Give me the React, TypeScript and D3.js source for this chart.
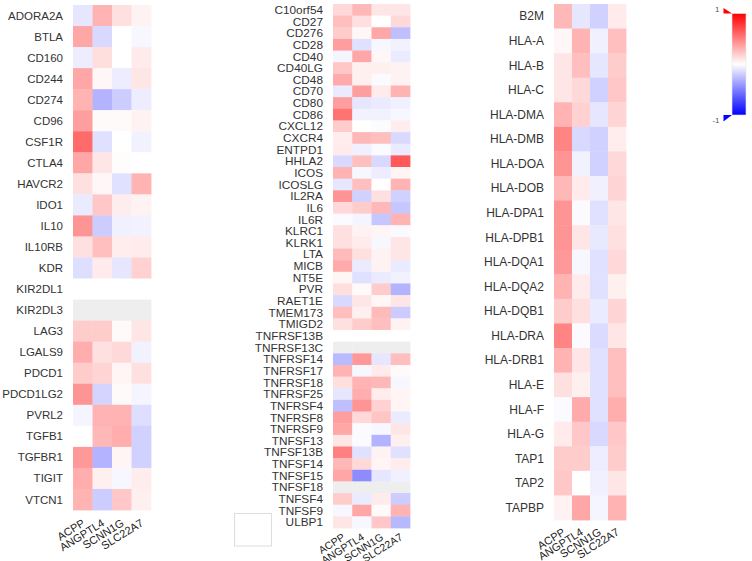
import React, { useEffect, useRef } from "react";
import * as d3 from "d3";

// correlation of immune genes with the four signature genes
const samples = ["ACPP", "ANGPTL4", "SCNN1G", "SLC22A7"];

const inhibitorGenes = [
  "ADORA2A", "BTLA", "CD160", "CD244", "CD274", "CD96", "CSF1R", "CTLA4",
  "HAVCR2", "IDO1", "IL10", "IL10RB", "KDR", "KIR2DL1", "KIR2DL3", "LAG3",
  "LGALS9", "PDCD1", "PDCD1LG2", "PVRL2", "TGFB1", "TGFBR1", "TIGIT", "VTCN1",
];
const inhibitorValues = [
  [-0.1, 0.3, 0.12, 0.05],
  [0.35, -0.15, 0.0, -0.03],
  [-0.07, 0.13, 0.0, 0.08],
  [0.35, 0.03, -0.07, 0.1],
  [0.3, -0.3, -0.2, -0.07],
  [0.38, 0.02, 0.02, 0.05],
  [0.58, -0.12, 0.0, -0.05],
  [0.35, 0.1, 0.01, 0.0],
  [0.12, 0.03, -0.12, 0.3],
  [-0.08, 0.22, 0.07, 0.05],
  [0.42, -0.2, -0.06, -0.05],
  [0.12, 0.25, 0.07, 0.08],
  [-0.13, 0.08, -0.1, 0.18],
  [0.0, 0.0, 0.0, 0.0],
  [null, null, null, null],
  [0.2, 0.2, 0.02, 0.1],
  [0.32, 0.12, 0.15, -0.05],
  [0.2, 0.17, 0.04, 0.12],
  [0.42, -0.17, 0.02, -0.04],
  [-0.04, 0.3, 0.3, -0.13],
  [0.0, 0.28, 0.32, -0.18],
  [0.4, -0.3, 0.04, -0.18],
  [0.32, 0.06, -0.03, 0.07],
  [0.3, -0.2, 0.22, 0.06],
];

const stimulatorGenes = [
  "C10orf54", "CD27", "CD276", "CD28", "CD40", "CD40LG", "CD48", "CD70",
  "CD80", "CD86", "CXCL12", "CXCR4", "ENTPD1", "HHLA2", "ICOS", "ICOSLG",
  "IL2RA", "IL6", "IL6R", "KLRC1", "KLRK1", "LTA", "MICB", "NT5E", "PVR",
  "RAET1E", "TMEM173", "TMIGD2", "TNFRSF13B", "TNFRSF13C", "TNFRSF14",
  "TNFRSF17", "TNFRSF18", "TNFRSF25", "TNFRSF4", "TNFRSF8", "TNFRSF9",
  "TNFSF13", "TNFSF13B", "TNFSF14", "TNFSF15", "TNFSF18", "TNFSF4", "TNFSF9",
  "ULBP1",
];
const stimulatorValues = [
  [0.15, 0.28, 0.1, 0.1],
  [0.25, 0.12, 0.0, 0.15],
  [0.2, 0.03, 0.35, -0.25],
  [0.38, -0.12, -0.03, -0.05],
  [-0.04, 0.35, 0.03, -0.08],
  [0.22, 0.06, 0.06, 0.05],
  [0.33, 0.06, -0.02, 0.05],
  [-0.08, 0.38, 0.08, 0.3],
  [0.38, -0.1, -0.08, -0.06],
  [0.55, -0.05, -0.05, -0.03],
  [0.2, 0.0, -0.01, 0.07],
  [0.07, 0.28, 0.25, -0.15],
  [0.08, -0.06, -0.02, -0.08],
  [-0.15, 0.25, -0.15, 0.65],
  [0.3, -0.03, -0.07, 0.04],
  [-0.1, 0.25, 0.0, 0.3],
  [0.42, -0.18, 0.12, -0.18],
  [0.15, 0.2, 0.28, -0.22],
  [-0.02, -0.04, -0.22, 0.3],
  [0.12, 0.05, 0.04, -0.02],
  [0.12, 0.08, -0.03, 0.1],
  [0.27, 0.12, 0.05, 0.1],
  [0.33, -0.08, 0.05, -0.08],
  [0.04, -0.12, -0.08, -0.05],
  [0.13, 0.02, 0.2, -0.3],
  [-0.15, 0.1, 0.03, 0.1],
  [0.25, 0.06, 0.27, -0.2],
  [0.12, 0.2, 0.25, 0.05],
  [0.0, 0.0, 0.0, 0.0],
  [null, null, null, null],
  [-0.27, 0.4, -0.1, 0.25],
  [0.3, -0.03, 0.08, 0.02],
  [0.13, 0.3, 0.28, -0.03],
  [-0.1, 0.32, 0.07, 0.04],
  [-0.25, 0.42, 0.18, 0.04],
  [0.38, 0.15, 0.23, -0.08],
  [0.35, -0.02, -0.03, 0.1],
  [0.1, -0.02, -0.3, 0.06],
  [0.5, -0.12, 0.05, -0.12],
  [0.28, 0.15, 0.04, 0.07],
  [0.35, -0.45, -0.1, -0.06],
  [null, null, null, null],
  [0.2, -0.08, 0.08, -0.2],
  [-0.03, 0.35, 0.02, 0.3],
  [0.1, -0.03, 0.22, -0.28],
];

const mhcGenes = [
  "B2M", "HLA-A", "HLA-B", "HLA-C", "HLA-DMA", "HLA-DMB", "HLA-DOA",
  "HLA-DOB", "HLA-DPA1", "HLA-DPB1", "HLA-DQA1", "HLA-DQA2", "HLA-DQB1",
  "HLA-DRA", "HLA-DRB1", "HLA-E", "HLA-F", "HLA-G", "TAP1", "TAP2", "TAPBP",
];
const mhcValues = [
  [0.28, -0.1, -0.18, 0.08],
  [0.03, 0.3, -0.06, 0.25],
  [0.1, 0.25, -0.1, 0.2],
  [0.1, 0.15, -0.18, 0.22],
  [0.3, 0.18, -0.1, 0.17],
  [0.48, -0.15, -0.18, 0.07],
  [0.42, -0.05, -0.18, 0.15],
  [0.28, 0.08, -0.06, 0.17],
  [0.42, -0.02, -0.12, 0.1],
  [0.42, 0.1, -0.09, 0.12],
  [0.4, -0.03, -0.12, 0.15],
  [0.3, 0.08, -0.12, 0.06],
  [0.2, 0.12, -0.08, 0.17],
  [0.48, -0.02, -0.14, 0.1],
  [0.3, 0.1, -0.12, 0.25],
  [0.12, 0.06, -0.12, 0.25],
  [-0.02, 0.33, -0.12, 0.32],
  [0.08, 0.22, -0.15, 0.22],
  [0.2, 0.2, -0.07, 0.2],
  [0.22, 0.0, -0.06, 0.1],
  [0.05, 0.35, -0.04, 0.3],
];

const legendTicks = [1, -1];

const font = "Helvetica, Arial, 'Liberation Sans', sans-serif";

export default function App() {
  const ref = useRef<SVGSVGElement>(null);

  useEffect(() => {
    const svg = d3.select(ref.current);
    svg.selectAll("*").remove();

    const color = d3
      .scaleLinear<string>()
      .domain([-1, 0, 1])
      .range(["#0000ff", "#ffffff", "#ff0000"]);

    // layout of the three heatmaps
    const panels = [
      { genes: inhibitorGenes, values: inhibitorValues, left: 73, right: 151, top: 5, bottom: 510, fs: 11.5, colFs: 11, colDy: 15 },
      { genes: stimulatorGenes, values: stimulatorValues, left: 333, right: 410, top: 4, bottom: 528, fs: 11.8, colFs: 10.5, colDy: 11 },
      { genes: mhcGenes, values: mhcValues, left: 554, right: 626, top: 4, bottom: 520, fs: 12, colFs: 11, colDy: 14 },
    ];

    panels.forEach((p) => {
      const x = d3.scaleBand().domain(samples).range([p.left, p.right]);
      const y = d3.scaleBand().domain(p.genes).range([p.top, p.bottom]);
      const g = svg.append("g");

      const cells = p.genes.flatMap((gene, i) =>
        samples.map((s, j) => ({ gene, s, v: p.values[i][j] }))
      );

      g.selectAll("rect.cell")
        .data(cells)
        .enter()
        .append("rect")
        .attr("class", "cell")
        .attr("x", (d) => x(d.s)!)
        .attr("y", (d) => y(d.gene)!)
        .attr("width", x.bandwidth() + 0.4)
        .attr("height", y.bandwidth() + 0.4)
        .attr("fill", (d) => (d.v == null ? "#eeeeee" : color(d.v)));

      // gene names
      g.selectAll("text.row")
        .data(p.genes)
        .enter()
        .append("text")
        .attr("class", "row")
        .attr("x", p.left - 10)
        .attr("y", (d) => y(d)! + y.bandwidth() / 2)
        .attr("dy", "0.35em")
        .attr("text-anchor", "end")
        .attr("font-family", font)
        .attr("font-size", p.fs)
        .attr("fill", "#333")
        .text((d) => d);

      // sample names, tilted
      g.selectAll("text.col")
        .data(samples)
        .enter()
        .append("text")
        .attr("class", "col")
        .attr("text-anchor", "end")
        .attr("font-family", font)
        .attr("font-size", p.colFs)
        .attr("fill", "#222")
        .attr("transform", (d) => {
          const cx = x(d)! + x.bandwidth() / 2 + 3;
          return "translate(" + cx + "," + (p.bottom + p.colDy) + ") rotate(-32)";
        })
        .text((d) => d);
    });

    // empty box under the middle panel
    svg.append("rect")
      .attr("x", 234.5).attr("y", 513.5)
      .attr("width", 37).attr("height", 32.5)
      .attr("fill", "none")
      .attr("stroke", "#dddddd");

    // colour bar
    const ly = d3.scaleLinear().domain([1, -1]).range([13.5, 115]);
    const defs = svg.append("defs");
    const grad = defs.append("linearGradient")
      .attr("id", "corr-grad")
      .attr("x1", 0).attr("y1", 0).attr("x2", 0).attr("y2", 1);
    [1, 0.5, 0, -0.5, -1].forEach((v) => {
      grad.append("stop")
        .attr("offset", (1 - v) / 2)
        .attr("stop-color", color(v));
    });

    const lx0 = 732, lx1 = 746;
    svg.append("rect")
      .attr("x", lx0).attr("y", ly(1))
      .attr("width", lx1 - lx0).attr("height", ly(-1) - ly(1))
      .attr("fill", "url(#corr-grad)")
      .attr("stroke", "#e6e6e6")
      .attr("stroke-width", 0.6);

    const tri = 8.5;
    svg.append("path")
      .attr("d", "M" + (lx0 - tri) + "," + (ly(1) - 5.5) + "L" + (lx0 - tri) + "," + ly(1) + "L" + lx0 + "," + ly(1) + "Z")
      .attr("fill", color(1));
    svg.append("path")
      .attr("d", "M" + (lx0 - tri) + "," + ly(-1) + "L" + lx0 + "," + ly(-1) + "L" + (lx0 - tri) + "," + (ly(-1) + 6.5) + "Z")
      .attr("fill", color(-1));

    svg.selectAll("text.legend")
      .data(legendTicks)
      .enter()
      .append("text")
      .attr("class", "legend")
      .attr("x", lx0 - tri - 4)
      .attr("y", (d) => (d > 0 ? ly(d) - 4 : ly(d) + 5))
      .attr("dy", "0.35em")
      .attr("text-anchor", "end")
      .attr("font-family", font)
      .attr("font-size", 8)
      .attr("fill", "#555")
      .text((d) => d);
  }, []);

  return (
    <svg
      ref={ref}
      width={752}
      height={561}
      style={{ position: "absolute", left: 0, top: 0, background: "#fff" }}
    />
  );
}
